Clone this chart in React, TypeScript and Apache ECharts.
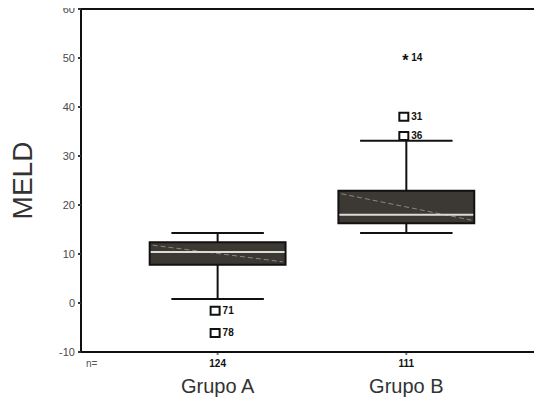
import React, { useEffect, useRef } from "react";
import * as echarts from "echarts";

const categories = ["Grupo A", "Grupo B"];
const nCounts = ["124", "111"];
const lowWhisker = [0.8, 14.3];
const q1 = [7.8, 16.3];
const median = [10.4, 18.0];
const q3 = [12.4, 22.9];
const highWhisker = [14.3, 33.1];

const outlierGroup = [0, 0, 1, 1, 1];
const outlierValues = [-1.6, -6.1, 50.2, 38.0, 34.1];
const outlierIds = ["71", "78", "14", "31", "36"];
const outlierExtreme = [false, false, true, false, false];

const yMin = -10;
const yMax = 60;
const yInterval = 10;
const yName = "MELD";
const nLabel = "n=";

const FONT = "'Liberation Sans', Arial, sans-serif";
const X_MIN = 0.276;
const X_MAX = 2.719;

export default function App() {
  const ref = useRef<HTMLDivElement>(null);
  useEffect(() => {
    const chart = echarts.init(ref.current!, null, { renderer: "svg" });
    const boxData = categories.map((_, i) => [i + 1, lowWhisker[i], q1[i], median[i], q3[i], highWhisker[i]]);
    const outData = outlierValues.map((v, i) => [outlierGroup[i] + 1, v, i]);
    const labelData = categories.map((_, i) => [i + 1, yMin, i]);
    const axisLine = { show: true, onZero: false, lineStyle: { color: "#111111", width: 2 } };

    chart.setOption({
      animation: false,
      grid: { left: 77, right: -4, top: 9, bottom: 53 },
      xAxis: [
        {
          type: "value",
          min: X_MIN,
          max: X_MAX,
          position: "bottom",
          axisLine,
          axisTick: { show: false },
          axisLabel: { show: false },
          splitLine: { show: false },
        },
        {
          type: "value",
          min: X_MIN,
          max: X_MAX,
          position: "top",
          axisLine,
          axisTick: { show: false },
          axisLabel: { show: false },
          splitLine: { show: false },
        },
      ],
      yAxis: {
        type: "value",
        min: yMin,
        max: yMax,
        interval: yInterval,
        name: yName,
        nameLocation: "middle",
        nameGap: 45,
        nameTextStyle: { fontSize: 28, color: "#333333", fontFamily: FONT },
        axisLine,
        axisTick: { show: true, length: 3, lineStyle: { color: "#333333", width: 2 } },
        axisLabel: { color: "#4a4a4a", fontSize: 11, fontFamily: FONT, margin: 6 },
        splitLine: { show: false },
      },
      series: [
        {
          type: "custom",
          data: boxData,
          z: 3,
          renderItem: (params: any, api: any) => {
            const x = api.value(0);
            const pLow = api.coord([x, api.value(1)]);
            const pQ1 = api.coord([x, api.value(2)]);
            const pMed = api.coord([x, api.value(3)]);
            const pQ3 = api.coord([x, api.value(4)]);
            const pHigh = api.coord([x, api.value(5)]);
            const boxW = api.size([0.72, 0])[0];
            const capW = api.size([0.49, 0])[0];
            const cx = pMed[0];
            const bl = cx - boxW / 2;
            const br = cx + boxW / 2;
            const lineStyle = { stroke: "#111111", lineWidth: 2 };
            return {
              type: "group",
              children: [
                { type: "line", shape: { x1: cx, y1: pQ3[1], x2: cx, y2: pHigh[1] }, style: lineStyle },
                { type: "line", shape: { x1: cx, y1: pQ1[1], x2: cx, y2: pLow[1] }, style: lineStyle },
                { type: "line", shape: { x1: cx - capW / 2, y1: pHigh[1], x2: cx + capW / 2, y2: pHigh[1] }, style: lineStyle },
                { type: "line", shape: { x1: cx - capW / 2, y1: pLow[1], x2: cx + capW / 2, y2: pLow[1] }, style: lineStyle },
                {
                  type: "rect",
                  shape: { x: bl, y: pQ3[1], width: boxW, height: pQ1[1] - pQ3[1] },
                  style: { fill: "#3c3834", stroke: "#111111", lineWidth: 2 },
                },
                {
                  type: "line",
                  shape: { x1: bl + 3, y1: pQ3[1] + 3, x2: br - 3, y2: pQ1[1] - 3 },
                  style: { stroke: "#8a8682", lineWidth: 1, lineDash: [5, 3] },
                },
                {
                  type: "line",
                  shape: { x1: bl + 1, y1: pMed[1], x2: br - 1, y2: pMed[1] },
                  style: { stroke: "#dddbd8", lineWidth: 2 },
                },
              ],
            };
          },
        },
        {
          type: "custom",
          data: outData,
          z: 4,
          renderItem: (params: any, api: any) => {
            const idx = api.value(2);
            const p = api.coord([api.value(0), api.value(1)]);
            const extreme = outlierExtreme[idx];
            const children: any[] = [];
            if (extreme) {
              children.push({
                type: "text",
                style: {
                  x: p[0] - 1,
                  y: p[1] + 3,
                  text: "*",
                  fill: "#111111",
                  font: `bold 16px ${FONT}`,
                  align: "center",
                  verticalAlign: "middle",
                },
              });
            } else {
              children.push({
                type: "rect",
                shape: { x: p[0] - 7, y: p[1] - 4, width: 9, height: 8 },
                style: { fill: "#ffffff", stroke: "#111111", lineWidth: 2 },
              });
            }
            children.push({
              type: "text",
              style: {
                x: p[0] + 5,
                y: p[1],
                text: outlierIds[idx],
                fill: "#111111",
                font: `bold 10px ${FONT}`,
                align: "left",
                verticalAlign: "middle",
              },
            });
            return { type: "group", children };
          },
        },
        {
          type: "custom",
          data: labelData,
          renderItem: (params: any, api: any) => {
            const i = api.value(2);
            const p = api.coord([api.value(0), api.value(1)]);
            const children: any[] = [
              { type: "line", shape: { x1: p[0], y1: p[1] + 1, x2: p[0], y2: p[1] + 3 }, style: { stroke: "#777777", lineWidth: 2 } },
              {
                type: "text",
                style: {
                  x: p[0],
                  y: p[1] + 11,
                  text: nCounts[i],
                  fill: "#111111",
                  font: `bold 10px ${FONT}`,
                  align: "center",
                  verticalAlign: "middle",
                },
              },
              {
                type: "text",
                style: {
                  x: p[0],
                  y: p[1] + 34,
                  text: categories[i],
                  fill: "#333333",
                  font: `20px ${FONT}`,
                  align: "center",
                  verticalAlign: "middle",
                },
              },
            ];
            if (i === 0) {
              const p0 = api.coord([X_MIN, yMin]);
              children.push({
                type: "text",
                style: {
                  x: p0[0] + 5,
                  y: p0[1] + 11,
                  text: nLabel,
                  fill: "#555555",
                  font: `10px ${FONT}`,
                  align: "left",
                  verticalAlign: "middle",
                },
              });
            }
            return { type: "group", children };
          },
        },
      ],
    });
    return () => chart.dispose();
  }, []);
  return <div ref={ref} style={{ width: 542, height: 405, margin: -8 }} />;
}
